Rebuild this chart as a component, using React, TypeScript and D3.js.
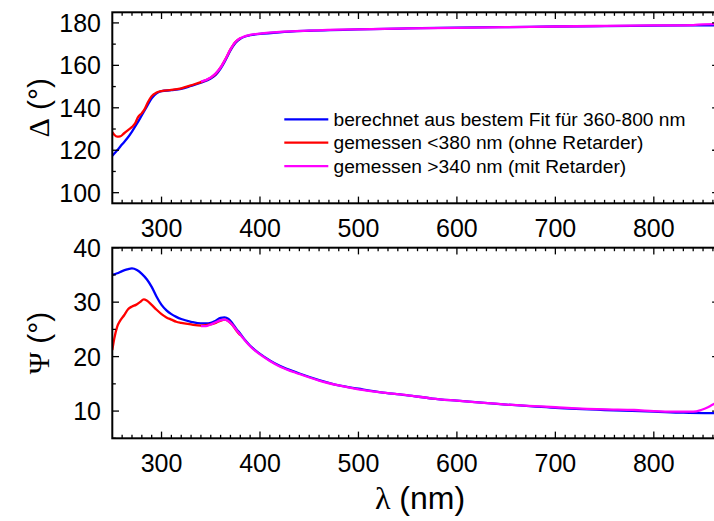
import React from "react";
import * as d3 from "d3";

// Wavelength grids (nm) and ellipsometric angles (degrees)
const deltaCalcNm = [250, 255, 260, 265, 270, 275, 280, 285, 290, 295, 300, 310, 320, 330, 340, 350, 355, 360, 365, 370, 375, 380, 385, 390, 400, 420, 450, 500, 550, 600, 650, 700, 750, 800, 866];
const deltaCalc = [117.4, 120, 122.8, 125.5, 128.8, 132.5, 136.5, 140.5, 144.5, 146.8, 147.8, 148.3, 148.9, 150.3, 151.8, 153.8, 155.5, 158.5, 162.5, 167, 170.5, 172.5, 173.6, 174.2, 174.8, 175.6, 176.3, 177.0, 177.4, 177.8, 178.0, 178.3, 178.5, 178.7, 178.9];

const deltaUvNm = [250, 252, 255, 258, 262, 266, 270, 273, 276, 280, 283, 286, 290, 295, 300, 310, 320, 330, 340, 350, 355, 360, 365, 370, 375, 380];
const deltaUv = [128.5, 127.3, 126.4, 126.5, 128.0, 129.5, 131, 132.5, 135.5, 137.5, 139.5, 142.5, 145.5, 147.2, 147.9, 148.4, 149.2, 150.6, 152.1, 154.2, 156, 159, 163, 167.5, 171, 172.8];

const deltaRetNm = [340, 350, 355, 360, 365, 370, 375, 380, 385, 390, 400, 420, 450, 500, 550, 600, 650, 700, 750, 800, 840, 850, 866];
const deltaRet = [152.3, 154.3, 156.2, 159, 163, 167.5, 171, 172.8, 173.8, 174.4, 175, 175.8, 176.4, 177.0, 177.4, 177.7, 178.0, 178.3, 178.6, 178.8, 179.0, 179.3, 179.4];

const psiCalcNm = [250, 255, 260, 265, 270, 275, 280, 285, 290, 295, 300, 305, 310, 315, 320, 330, 340, 345, 350, 355, 360, 364, 368, 372, 376, 380, 385, 390, 395, 400, 410, 420, 440, 460, 480, 500, 525, 550, 575, 600, 650, 700, 750, 800, 830, 866];
const psiCalc = [35.0, 35.3, 35.7, 36.0, 36.2, 35.9, 35.2, 34.2, 32.8, 31.0, 29.5, 28.5, 27.8, 27.3, 26.9, 26.4, 26.1, 26.1, 26.2, 26.6, 27.1, 27.2, 26.9, 26.1, 25.1, 24.2, 23.0, 22.0, 21.2, 20.5, 19.3, 18.3, 16.9, 15.7, 14.7, 14.1, 13.4, 12.9, 12.3, 11.9, 11.2, 10.6, 10.2, 9.9, 9.7, 9.6];

const psiUvNm = [250, 252, 255, 258, 262, 266, 270, 274, 278, 282, 285, 290, 295, 300, 305, 310, 315, 320, 330, 340, 350, 355, 360, 364, 368, 372, 376, 380];
const psiUv = [21.2, 23.3, 25.5, 26.6, 27.6, 28.7, 29.2, 29.5, 30.0, 30.5, 30.3, 29.5, 28.6, 27.8, 27.2, 26.8, 26.4, 26.2, 25.9, 25.7, 25.9, 26.2, 26.6, 26.8, 26.5, 25.8, 24.8, 23.9];

const psiRetNm = [340, 345, 350, 355, 360, 364, 368, 372, 376, 380, 385, 390, 395, 400, 410, 420, 440, 460, 480, 500, 525, 550, 575, 600, 650, 700, 750, 780, 800, 820, 840, 848, 855, 860, 866];
const psiRet = [25.6, 25.6, 25.9, 26.3, 26.7, 26.8, 26.5, 25.8, 24.9, 24.0, 22.9, 21.9, 21.1, 20.4, 19.2, 18.2, 16.8, 15.6, 14.7, 14.0, 13.4, 12.9, 12.3, 11.9, 11.2, 10.7, 10.3, 10.2, 10.0, 9.9, 9.9, 10.2, 10.7, 11.2, 11.6];

const xTicks = [300, 400, 500, 600, 700, 800];
const deltaTicks = [100, 120, 140, 160, 180];
const psiTicks = [10, 20, 30, 40];

const legendLabels = [
  "berechnet aus bestem Fit für 360-800 nm",
  "gemessen <380 nm (ohne Retarder)",
  "gemessen >340 nm (mit Retarder)",
];
const seriesColors = ["#0000ff", "#ff0000", "#ff00ff"];

const W = 714;
const H = 521;
const LEFT = 112.3;
const RIGHT = 718.8;
const SANS = "'Liberation Sans', Arial, sans-serif";
const SERIF = "'Liberation Serif', 'Times New Roman', serif";

const x = d3.scaleLinear().domain([250, 866]).range([LEFT, RIGHT]);
const yDelta = d3.scaleLinear().domain([95, 185]).range([203.3, 12.3]);
const yPsi = d3.scaleLinear().domain([5, 40]).range([438.3, 247.7]);

type Series = { nm: number[]; v: number[]; color: string };

function Panel({
  id,
  y,
  series,
  ticks,
  minorStep,
  symbol,
}: {
  id: string;
  y: d3.ScaleLinear<number, number>;
  series: Series[];
  ticks: number[];
  minorStep: number;
  symbol: string;
}) {
  const [y0, y1] = y.range();
  const top = y1;
  const bottom = y0;
  const [d0, d1] = y.domain();
  const minorY = d3.range(Math.ceil(d0 / minorStep) * minorStep, d1 + 0.001, minorStep).filter((v) => !ticks.includes(v));
  const minorX = d3.range(260, 866, 10).filter((v) => v % 100 !== 0);
  const line = (s: Series) =>
    d3
      .line<number>()
      .x((_, i) => x(s.nm[i]))
      .y((v) => y(v))
      .curve(d3.curveMonotoneX)(s.v) as string;
  const majorLen = 6.7;
  const minorLen = 3.5;
  return (
    <g>
      <defs>
        <clipPath id={id}>
          <rect x={LEFT} y={top} width={RIGHT - LEFT} height={bottom - top} />
        </clipPath>
      </defs>
      <g clipPath={`url(#${id})`}>
        {series.map((s, i) => (
          <path key={i} d={line(s)} fill="none" stroke={s.color} strokeWidth={2.3} strokeLinejoin="round" />
        ))}
      </g>
      {/* x ticks on bottom and top edges, pointing inward */}
      <g stroke="#000" strokeWidth={1.3}>
        {xTicks.map((t) => (
          <g key={t}>
            <line x1={x(t)} x2={x(t)} y1={bottom} y2={bottom - majorLen} />
            <line x1={x(t)} x2={x(t)} y1={top} y2={top + majorLen} />
          </g>
        ))}
        {minorX.map((t) => (
          <g key={t}>
            <line x1={x(t)} x2={x(t)} y1={bottom} y2={bottom - minorLen} />
            <line x1={x(t)} x2={x(t)} y1={top} y2={top + minorLen} />
          </g>
        ))}
        {ticks.map((t) => (
          <g key={t}>
            <line x1={LEFT} x2={LEFT + majorLen} y1={y(t)} y2={y(t)} />
            <line x1={RIGHT} x2={RIGHT - majorLen} y1={y(t)} y2={y(t)} />
          </g>
        ))}
        {minorY.map((t) => (
          <g key={t}>
            <line x1={LEFT} x2={LEFT + minorLen} y1={y(t)} y2={y(t)} />
            <line x1={RIGHT} x2={RIGHT - minorLen} y1={y(t)} y2={y(t)} />
          </g>
        ))}
      </g>
      <rect x={LEFT} y={top} width={RIGHT - LEFT} height={bottom - top} fill="none" stroke="#000" strokeWidth={2} />
      <g fontFamily={SANS} fontSize={25} fill="#000">
        {ticks.map((t) => (
          <text key={t} x={101} y={y(t)} textAnchor="end" dominantBaseline="central">
            {t}
          </text>
        ))}
        {xTicks.map((t) => (
          <text key={t} x={x(t)} y={bottom + 25} textAnchor="middle" dominantBaseline="central">
            {t}
          </text>
        ))}
      </g>
      <text
        transform={`translate(38, ${(top + bottom) / 2}) rotate(-90)`}
        textAnchor="middle"
        dominantBaseline="central"
        fontFamily={SANS}
        fontSize={30}
      >
        <tspan fontFamily={SERIF}>{symbol}</tspan>
        <tspan> (°)</tspan>
      </text>
    </g>
  );
}

export default function App() {
  const deltaSeries: Series[] = [
    { nm: deltaCalcNm, v: deltaCalc, color: seriesColors[0] },
    { nm: deltaUvNm, v: deltaUv, color: seriesColors[1] },
    { nm: deltaRetNm, v: deltaRet, color: seriesColors[2] },
  ];
  const psiSeries: Series[] = [
    { nm: psiCalcNm, v: psiCalc, color: seriesColors[0] },
    { nm: psiUvNm, v: psiUv, color: seriesColors[1] },
    { nm: psiRetNm, v: psiRet, color: seriesColors[2] },
  ];
  return (
    <svg width={W} height={H} style={{ position: "absolute", left: 0, top: 0, background: "#fff" }}>
      <rect width={W} height={H} fill="#fff" />
      <Panel id="clip-delta" y={yDelta} series={deltaSeries} ticks={deltaTicks} minorStep={10} symbol="Δ" />
      <Panel id="clip-psi" y={yPsi} series={psiSeries} ticks={psiTicks} minorStep={5} symbol="Ψ" />
      <g fontFamily={SANS} fontSize={19.2}>
        {legendLabels.map((label, i) => (
          <g key={label} transform={`translate(0, ${119.3 + i * 23.4})`}>
            <line x1={284.3} x2={328.3} y1={0} y2={0} stroke={seriesColors[i]} strokeWidth={2.3} />
            <text x={333.5} y={0} dominantBaseline="central">
              {label}
            </text>
          </g>
        ))}
      </g>
      <text x={420} y={498} textAnchor="middle" dominantBaseline="central" fontFamily={SANS} fontSize={32}>
        <tspan fontFamily={SERIF}>λ</tspan>
        <tspan> (nm)</tspan>
      </text>
    </svg>
  );
}
